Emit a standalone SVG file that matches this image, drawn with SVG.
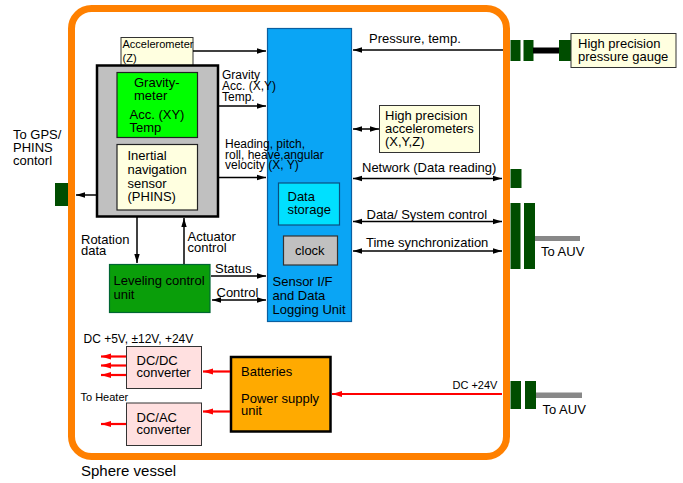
<svg xmlns="http://www.w3.org/2000/svg" width="683" height="483" viewBox="0 0 683 483">
<defs>
<style>
text{font-family:"Liberation Sans",Arial,sans-serif;fill:#000}
.t13{font-size:13px}.t12{font-size:12px}.t11{font-size:11px}.t15{font-size:15px}
.ln{stroke:#000;stroke-width:1.5;fill:none}
.rd{stroke:#F00;stroke-width:2.2;fill:none}
.dg{fill:#004D00}
</style>
<marker id="ah" viewBox="0 0 10 10" refX="10" refY="5" markerWidth="9" markerHeight="9" orient="auto-start-reverse" markerUnits="userSpaceOnUse"><path d="M0,2 L10,5 L0,8 z" fill="#000"/></marker>
<marker id="ar" viewBox="0 0 10 10" refX="10" refY="5" markerWidth="10" markerHeight="10" orient="auto" markerUnits="userSpaceOnUse"><path d="M0,2 L10,5 L0,8 z" fill="#F00"/></marker>
</defs>
<rect width="683" height="483" fill="#fff"/>
<g id="vessel">
<rect x="71.5" y="8.5" width="435" height="448" rx="20" fill="none" stroke="#FF8000" stroke-width="7"/>
<text class="t15" x="81" y="476">Sphere vessel</text>
</g>
<g id="externals">
<rect class="dg" x="55" y="183" width="13" height="23"/>
<text class="t13" x="13" y="139">To GPS/</text>
<text class="t13" x="13" y="152">PHINS</text>
<text class="t13" x="13" y="165">contorl</text>
<rect class="dg" x="510.5" y="40" width="10" height="21"/>
<rect class="dg" x="523.5" y="40" width="10" height="21"/>
<rect x="533" y="47.5" width="27" height="6" fill="#000"/>
<rect class="dg" x="559" y="40" width="12" height="21"/>
<rect class="dg" x="510.5" y="169" width="11" height="19"/>
<rect class="dg" x="510.5" y="203" width="10" height="66"/>
<rect class="dg" x="524" y="203" width="11" height="66"/>
<rect x="535" y="236" width="45" height="5" fill="#888"/>
<text class="t13" x="541" y="256">To AUV</text>
<rect class="dg" x="510.5" y="381" width="10.5" height="28"/>
<rect class="dg" x="525" y="381" width="11" height="28"/>
<rect x="536" y="392.5" width="46" height="5.5" fill="#888"/>
<text class="t13" x="542.5" y="414">To AUV</text>
</g>
<g id="gauge">
<rect x="571" y="33.5" width="105" height="34" fill="#FFFFE0" stroke="#333" stroke-width="1"/>
<text class="t13" x="578" y="47.5">High precision</text>
<text class="t13" x="578" y="60.5">pressure gauge</text>
</g>
<g id="hpacc">
<rect x="379.5" y="105.5" width="100" height="47" fill="#FFFFE0" stroke="#333" stroke-width="1"/>
<text class="t13" x="385" y="119.5">High precision</text>
<text class="t13" x="385" y="133">accelerometers</text>
<text class="t13" x="385" y="146">(X,Y,Z)</text>
</g>
<g id="accz">
<rect x="121" y="37.5" width="72" height="28" fill="#FFFFE0" stroke="#333" stroke-width="1"/>
<text class="t11" x="122.5" y="48">Accelerometer</text>
<text class="t11" x="122.5" y="62">(Z)</text>
</g>
<g id="sensorbox">
<rect x="97" y="65.5" width="121" height="151" fill="#C0C0C0" stroke="#000" stroke-width="2.5"/>
</g>
<g id="gravity">
<rect x="117" y="72.5" width="80.5" height="65" fill="#00FF00" stroke="#222" stroke-width="1.2"/>
<text class="t13" x="134" y="87">Gravity-</text>
<text class="t13" x="134" y="100">meter</text>
<text class="t13" x="129.5" y="119">Acc. (XY)</text>
<text class="t13" x="129.5" y="131.5">Temp</text>
</g>
<g id="ins">
<rect x="117" y="144.5" width="80.5" height="65.5" fill="#FFFFE0" stroke="#222" stroke-width="1.2"/>
<text class="t13" x="127.5" y="160">Inertial</text>
<text class="t13" x="127.5" y="174">navigation</text>
<text class="t13" x="127.5" y="187.5">sensor</text>
<text class="t13" x="127.5" y="201">(PHINS)</text>
</g>
<g id="logger">
<rect x="267.5" y="28.5" width="84" height="293" fill="#0AA5F5" stroke="#0A5FA0" stroke-width="1.2"/>
<text class="t13" x="272.5" y="286">Sensor I/F</text>
<text class="t13" x="272.5" y="300">and Data</text>
<text class="t13" x="272.5" y="313.5">Logging Unit</text>
</g>
<g id="storage">
<rect x="278.5" y="183" width="61" height="42" fill="#00E0FF" stroke="#0A4F80" stroke-width="1.2"/>
<text class="t13" x="287.5" y="201">Data</text>
<text class="t13" x="287.5" y="214">storage</text>
</g>
<g id="clock">
<rect x="283.5" y="236" width="54" height="29" fill="#C0C0C0" stroke="#333" stroke-width="1.2"/>
<text class="t13" x="295" y="254.5">clock</text>
</g>
<g id="leveling">
<rect x="109.5" y="264.5" width="100.5" height="48" fill="#0A9E0A" stroke="#063" stroke-width="1.2"/>
<text class="t13" x="113.5" y="285">Leveling control</text>
<text class="t13" x="113.5" y="298.5">unit</text>
</g>
<g id="dcdc">
<rect x="126.5" y="346.5" width="75" height="42" fill="#FFE0E0" stroke="#333" stroke-width="1"/>
<text class="t13" x="136.5" y="365">DC/DC</text>
<text class="t13" x="136.5" y="377">converter</text>
</g>
<g id="dcac">
<rect x="126.5" y="403" width="75" height="42.5" fill="#FFE0E0" stroke="#333" stroke-width="1"/>
<text class="t13" x="136.5" y="422">DC/AC</text>
<text class="t13" x="136.5" y="433.5">converter</text>
</g>
<g id="batteries">
<rect x="231" y="357" width="99.5" height="74.5" fill="#FFAA00" stroke="#000" stroke-width="2.5"/>
<text class="t13" x="241" y="376">Batteries</text>
<text class="t13" x="241" y="403">Power supply</text>
<text class="t13" x="241" y="415">unit</text>
</g>
<g id="connectors">
<line class="ln" x1="193" y1="51" x2="266" y2="51" marker-end="url(#ah)"/>
<line class="ln" x1="219" y1="106" x2="266" y2="106" marker-end="url(#ah)"/>
<text class="t12" x="222" y="78.5">Gravity</text>
<text class="t12" x="222" y="90">Acc. (X,Y)</text>
<text class="t12" x="222" y="100.5">Temp.</text>
<line class="ln" x1="219" y1="177.5" x2="266" y2="177.5" marker-end="url(#ah)"/>
<text class="t12" x="225" y="147.5">Heading, pitch,</text>
<text class="t12" x="225" y="158.5">roll, heave,angular</text>
<text class="t12" x="225" y="169">velocity (X, Y)</text>
<line class="ln" x1="96" y1="195" x2="76" y2="195" marker-end="url(#ah)"/>
<line class="ln" x1="137" y1="217" x2="137" y2="263" marker-end="url(#ah)"/>
<text class="t13" x="81" y="243.5">Rotation</text>
<text class="t13" x="81" y="254.5">data</text>
<line class="ln" x1="184" y1="264" x2="184" y2="218" marker-end="url(#ah)"/>
<text class="t13" x="187.5" y="240.5">Actuator</text>
<text class="t13" x="187.5" y="251.5">control</text>
<line class="ln" x1="211" y1="276" x2="266" y2="276" marker-end="url(#ah)"/>
<text class="t13" x="215" y="272.5">Status</text>
<line class="ln" x1="212" y1="300" x2="266" y2="300" marker-start="url(#ah)" marker-end="url(#ah)"/>
<text class="t13" x="216.5" y="296.5">Control</text>
<line class="ln" x1="503" y1="50" x2="353" y2="50" marker-end="url(#ah)"/>
<text class="t13" x="369" y="42.5">Pressure, temp.</text>
<line class="ln" x1="353" y1="129" x2="379" y2="129" marker-start="url(#ah)" marker-end="url(#ah)"/>
<line class="ln" x1="353" y1="178.5" x2="502" y2="178.5" marker-start="url(#ah)" marker-end="url(#ah)"/>
<text class="t13" x="362" y="172">Network (Data reading)</text>
<line class="ln" x1="353" y1="221.5" x2="502" y2="221.5" marker-start="url(#ah)" marker-end="url(#ah)"/>
<text class="t13" x="366.5" y="218.5">Data/ System control</text>
<line class="ln" x1="353" y1="251" x2="502" y2="251" marker-start="url(#ah)" marker-end="url(#ah)"/>
<text class="t13" x="366" y="246.5">Time synchronization</text>
<line class="rd" x1="502" y1="394" x2="332" y2="394" stroke-width="2" marker-end="url(#ar)"/>
<text class="t11" x="452.5" y="388.5">DC +24V</text>
<line class="rd" x1="230" y1="371.5" x2="203" y2="371.5" marker-end="url(#ar)"/>
<line class="rd" x1="230" y1="411.5" x2="203" y2="411.5" marker-end="url(#ar)"/>
<line class="rd" x1="126" y1="356.5" x2="101" y2="356.5" marker-end="url(#ar)"/>
<line class="rd" x1="126" y1="365.5" x2="101" y2="365.5" marker-end="url(#ar)"/>
<line class="rd" x1="126" y1="375" x2="101" y2="375" marker-end="url(#ar)"/>
<line class="rd" x1="126" y1="424" x2="101" y2="424" marker-end="url(#ar)"/>
<text class="t12" x="83.5" y="342.5">DC +5V, ±12V, +24V</text>
<text class="t11" x="80.5" y="400.5">To Heater</text>
</g>
</svg>
